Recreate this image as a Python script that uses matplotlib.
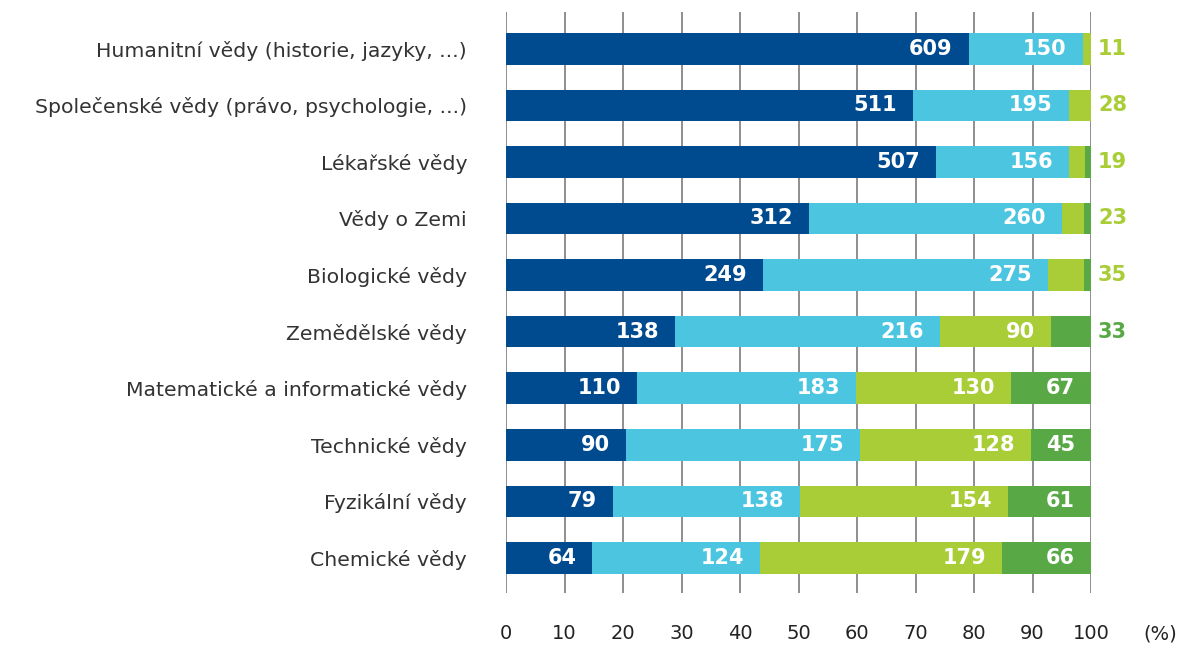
import matplotlib
matplotlib.use("Agg")
import matplotlib.pyplot as plt
import numpy as np

categories = [
    "Humanitní vědy (historie, jazyky, ...)",
    "Společenské vědy (právo, psychologie, ...)",
    "Lékařské vědy",
    "Vědy o Zemi",
    "Biologické vědy",
    "Zemědělské vědy",
    "Matematické a informatické vědy",
    "Technické vědy",
    "Fyzikální vědy",
    "Chemické vědy",
]
dark_blue = [609, 511, 507, 312, 249, 138, 110, 90, 79, 64]
light_blue = [150, 195, 156, 260, 275, 216, 183, 175, 138, 124]
light_green = [11, 28, 19, 23, 35, 90, 130, 128, 154, 179]
# dark green: rows 1-5 are not labelled in the source; small values
dark_green = [0, 0, 7, 7, 7, 33, 67, 45, 61, 66]
dark_green_labelled = [False, False, False, False, False, True, True, True, True, True]
xticks = [0, 10, 20, 30, 40, 50, 60, 70, 80, 90, 100]

colors = ["#004a8f", "#4bc5e0", "#a8cd37", "#58a846"]
series = [dark_blue, light_blue, light_green, dark_green]
labelled = [[True] * 10, [True] * 10, [True] * 10, dark_green_labelled]

plt.rcParams['font.family'] = ['DejaVu Sans']

fig = plt.figure(figsize=(11.85, 6.45), dpi=100)
ax = fig.add_axes([506 / 1185, 1 - 593 / 645, 585 / 1185, (593 - 12) / 645])

data = np.array(series, dtype=float)
totals = data.sum(axis=0)
pct = data / totals * 100
y = np.arange(len(categories))
bar_h = 0.56

left = np.zeros(len(categories))
for s in range(4):
    ax.barh(y, pct[s], left=left, height=bar_h, color=colors[s], zorder=2, linewidth=0)
    for i in range(len(categories)):
        if not labelled[s][i] or data[s, i] == 0:
            continue
        end = left[i] + pct[s, i]
        if pct[s, i] >= 8:
            ax.annotate(f"{int(data[s, i])}", xy=(end, y[i]), xytext=(-16, 0),
                        textcoords="offset pixels",
                        ha="right", va="center", color="white",
                        fontsize=15, fontweight="bold", zorder=3)
        else:
            ax.annotate(f"{int(data[s, i])}", xy=(100, y[i]), xytext=(7, 0),
                        textcoords="offset pixels", ha="left", va="center",
                        color=colors[s], fontsize=15, fontweight="bold",
                        zorder=3, annotation_clip=False)
    left += pct[s]

ax.set_xlim(0, 100)
ax.set_ylim(len(categories) - 1 + 0.62, -0.65)
ax.set_xticks(xticks)
ax.set_xticklabels([str(t) for t in xticks], fontsize=14, color="#222222")
ax.set_yticks(y)
ax.set_yticklabels(categories, fontsize=14.7, color="#333333")
ax.tick_params(axis="x", length=0, pad=22)
ax.tick_params(axis="y", length=0, pad=28)
for sp in ax.spines.values():
    sp.set_visible(False)
ax.grid(axis="x", color="#707070", linewidth=1.1, zorder=0)
ax.set_axisbelow(True)
fig.text(1160 / 1185, 1 - 634 / 645, "(%)", fontsize=14, color="#222222",
         ha="center", va="center")

fig.savefig("out.png", dpi=100)
